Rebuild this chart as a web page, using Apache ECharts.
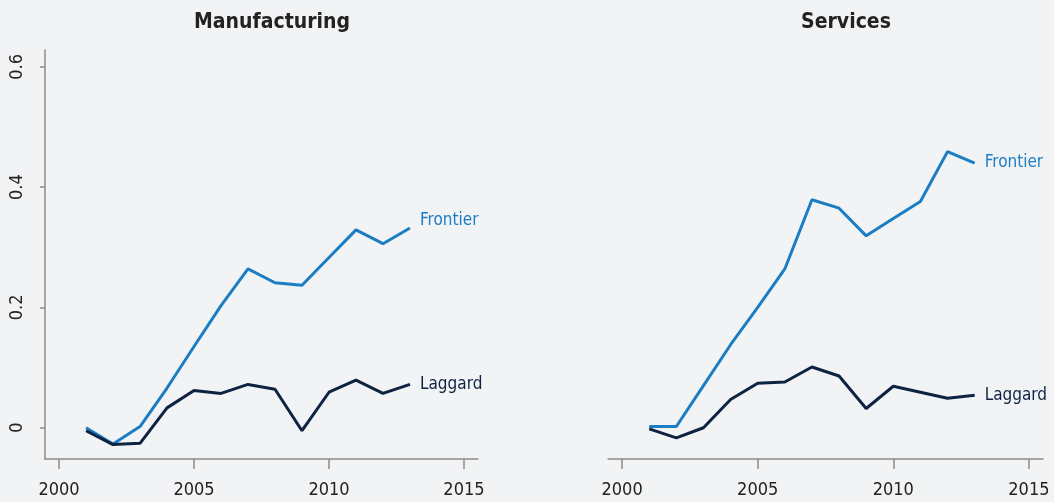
<!DOCTYPE html>
<html>
<head>
<meta charset="utf-8">
<script src="https://cdn.jsdelivr.net/npm/echarts@6/dist/echarts.min.js"></script>
<style>
  html, body { margin: 0; padding: 0; background: #f2f3f5; }
  #chart { width: 1054px; height: 502px; }
</style>
</head>
<body>
<div id="chart"></div>
<script>
  // data
  var years = [2001, 2002, 2003, 2004, 2005, 2006, 2007, 2008, 2009, 2010, 2011, 2012, 2013];
  var mfgFrontier = [0.0, -0.027, 0.002, 0.066, 0.135, 0.203, 0.264, 0.241, 0.237, 0.283, 0.329, 0.306, 0.332];
  var mfgLaggard = [-0.005, -0.028, -0.026, 0.033, 0.062, 0.057, 0.072, 0.064, -0.005, 0.059, 0.079, 0.057, 0.072];
  var srvFrontier = [0.002, 0.002, 0.07, 0.138, 0.2, 0.264, 0.379, 0.365, 0.319, 0.348, 0.376, 0.459, 0.44];
  var srvLaggard = [-0.002, -0.017, 0.0, 0.047, 0.074, 0.076, 0.101, 0.086, 0.032, 0.069, 0.059, 0.049, 0.054];
  var xTicks = [2000, 2005, 2010, 2015];
  var yTicks = [0, 0.2, 0.4, 0.6];

  var font = '"DejaVu Sans Condensed", "Liberation Sans Narrow", sans-serif';
  var blue = '#1b7dc3', navy = '#0e2242', axisGray = '#8c8c8c';

  function pairs(vals) {
    return years.map(function (y, i) { return [y, vals[i]]; });
  }

  function xAxisOf(idx) {
    return {
      type: 'value', gridIndex: idx, min: 1999.48, max: 2015.52,
      splitLine: { show: false },
      axisLine: { show: true, onZero: false, lineStyle: { color: axisGray, width: 1.5 } },
      axisTick: { show: true, length: 10, customValues: xTicks, lineStyle: { color: axisGray, width: 1.5 } },
      axisLabel: {
        customValues: xTicks, margin: 22, fontSize: 18, color: '#222', fontFamily: font,
        formatter: function (v) { return String(v); }
      }
    };
  }

  function yAxisOf(idx, visible) {
    return {
      type: 'value', gridIndex: idx, min: -0.052, max: 0.628,
      splitLine: { show: false },
      axisLine: { show: visible, onZero: false, lineStyle: { color: axisGray, width: 1.5 } },
      axisTick: { show: visible, length: 5, customValues: yTicks, lineStyle: { color: axisGray, width: 1.5 } },
      axisLabel: {
        show: visible, customValues: yTicks, rotate: 90, margin: 19,
        fontSize: 18, color: '#222', fontFamily: font,
        formatter: function (v) { return v === 0 ? '0' : String(v); }
      }
    };
  }

  function lineOf(name, idx, vals, color, offset) {
    return {
      name: name, type: 'line', xAxisIndex: idx, yAxisIndex: idx,
      data: pairs(vals), showSymbol: false, symbol: 'none',
      lineStyle: { color: color, width: 3 },
      itemStyle: { color: color },
      endLabel: {
        show: true, formatter: '{a}', color: color, fontSize: 17,
        fontFamily: font, distance: 10, offset: offset || [0, 0]
      },
      z: name === 'Laggard' ? 3 : 2
    };
  }

  var chart = echarts.init(document.getElementById('chart'));
  chart.setOption({
    backgroundColor: '#f2f3f5',
    animation: false,
    title: [
      { text: 'Manufacturing', left: 267, top: 7, textAlign: 'center',
        textStyle: { fontSize: 21, fontWeight: 'bold', color: '#222', fontFamily: font } },
      { text: 'Services', left: 841, top: 7, textAlign: 'center',
        textStyle: { fontSize: 21, fontWeight: 'bold', color: '#222', fontFamily: font } }
    ],
    grid: [
      { left: 45, right: 576, top: 50, bottom: 43 },
      { left: 608, right: 11, top: 50, bottom: 43 }
    ],
    xAxis: [xAxisOf(0), xAxisOf(1)],
    yAxis: [yAxisOf(0, true), yAxisOf(1, false)],
    series: [
      lineOf('Frontier', 0, mfgFrontier, blue, [0, -7]),
      lineOf('Laggard', 0, mfgLaggard, navy),
      lineOf('Frontier', 1, srvFrontier, blue),
      lineOf('Laggard', 1, srvLaggard, navy)
    ]
  });
</script>
</body>
</html>
